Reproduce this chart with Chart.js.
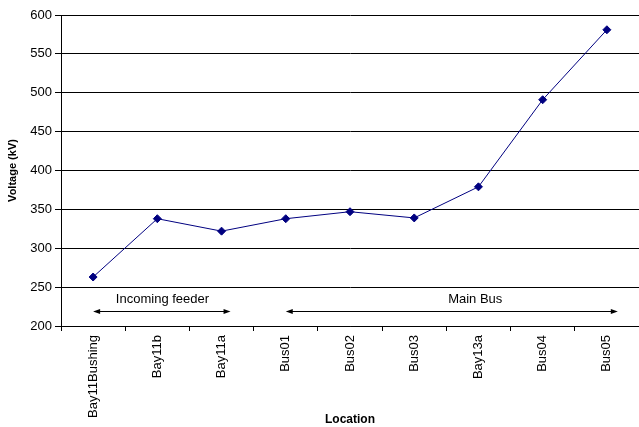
<!DOCTYPE html>
<html>
<head>
<meta charset="utf-8">
<script src="https://cdn.jsdelivr.net/npm/chart.js@4/dist/chart.umd.min.js"></script>
<style>
  html, body { margin: 0; padding: 0; background: #fff; }
  #chart { display: block; }
</style>
</head>
<body>
<canvas id="chart" width="639" height="427"></canvas>
<script>
const locations = ["Bay11Bushing", "Bay11b", "Bay11a", "Bus01", "Bus02", "Bus03", "Bay13a", "Bus04", "Bus05"];
const voltages = [263, 338, 322, 338, 347, 339, 379, 491, 581];
const yMin = 200;
const yMax = 600;
const yStep = 50;

// section markers under the line (category index range, in data units)
const groupNames = ["Incoming feeder", "Main Bus"];
const groupFrom = [0, 3];
const groupTo = [2.14, 8.17];
const groupTextAt = [1.08, 5.95];
const groupArrowAt = 219;
const groupTextLevel = 235;

const font = "'Liberation Sans', Arial, sans-serif";

// draws the two double-headed arrows + their captions
const groupPlugin = {
  id: "groups",
  afterDatasetsDraw(chart) {
    const ctx = chart.ctx;
    const x = chart.scales.x;
    const y = chart.scales.y;
    ctx.save();
    ctx.strokeStyle = "#000";
    ctx.fillStyle = "#000";
    ctx.lineWidth = 1;
    ctx.font = "13px " + font;
    ctx.textAlign = "center";
    ctx.textBaseline = "middle";
    const ay = Math.round(y.getPixelForValue(groupArrowAt)) + 0.5;
    groupNames.forEach((name, i) => {
      const x1 = x.getPixelForValue(groupFrom[i]);
      const x2 = x.getPixelForValue(groupTo[i]);
      ctx.beginPath();
      ctx.moveTo(x1 + 4, ay);
      ctx.lineTo(x2 - 4, ay);
      ctx.stroke();
      // heads
      ctx.beginPath();
      ctx.moveTo(x1, ay);
      ctx.lineTo(x1 + 7, ay - 2.5);
      ctx.lineTo(x1 + 7, ay + 2.5);
      ctx.closePath();
      ctx.fill();
      ctx.beginPath();
      ctx.moveTo(x2, ay);
      ctx.lineTo(x2 - 7, ay - 2.5);
      ctx.lineTo(x2 - 7, ay + 2.5);
      ctx.closePath();
      ctx.fill();
      ctx.fillText(name, x.getPixelForValue(groupTextAt[i]), y.getPixelForValue(groupTextLevel) + 1);
    });
    ctx.restore();
  }
};

new Chart(document.getElementById("chart"), {
  type: "line",
  plugins: [groupPlugin],
  data: {
    labels: locations,
    datasets: [{
      data: voltages,
      borderColor: "#000080",
      backgroundColor: "#000080",
      borderWidth: 1,
      pointStyle: "rectRot",
      pointRadius: 4,
      pointHoverRadius: 4,
      tension: 0
    }]
  },
  options: {
    responsive: false,
    animation: false,
    layout: { autoPadding: false, padding: { top: 15, right: 0, left: 0, bottom: 0 } },
    plugins: {
      legend: { display: false },
      tooltip: { enabled: false }
    },
    scales: {
      x: {
        offset: true,
        afterFit: (s) => { s.height = 101; s.paddingLeft = 0; s.paddingRight = 0; },
        grid: {
          offset: true,
          drawOnChartArea: false,
          drawTicks: true,
          tickLength: 5,
          color: "#000"
        },
        border: { color: "#000", width: 1 },
        ticks: {
          minRotation: 90,
          maxRotation: 90,
          padding: 4,
          color: "#000",
          font: { family: font, size: 13 }
        },
        title: {
          display: true,
          text: "Location",
          color: "#000",
          padding: { top: 0, bottom: 0 },
          font: { family: font, size: 12, weight: "bold" }
        }
      },
      y: {
        min: yMin,
        max: yMax,
        afterFit: (s) => { s.width = 61; s.paddingTop = 0; s.paddingBottom = 0; },
        grid: {
          color: "#000",
          tickLength: 6
        },
        border: { color: "#000", width: 1 },
        ticks: {
          stepSize: yStep,
          padding: 3,
          color: "#000",
          font: { family: font, size: 13 }
        },
        title: {
          display: true,
          text: "Voltage (kV)",
          color: "#000",
          padding: { top: 6, bottom: 0 },
          font: { family: font, size: 11, weight: "bold" }
        }
      }
    }
  }
});
</script>
</body>
</html>
